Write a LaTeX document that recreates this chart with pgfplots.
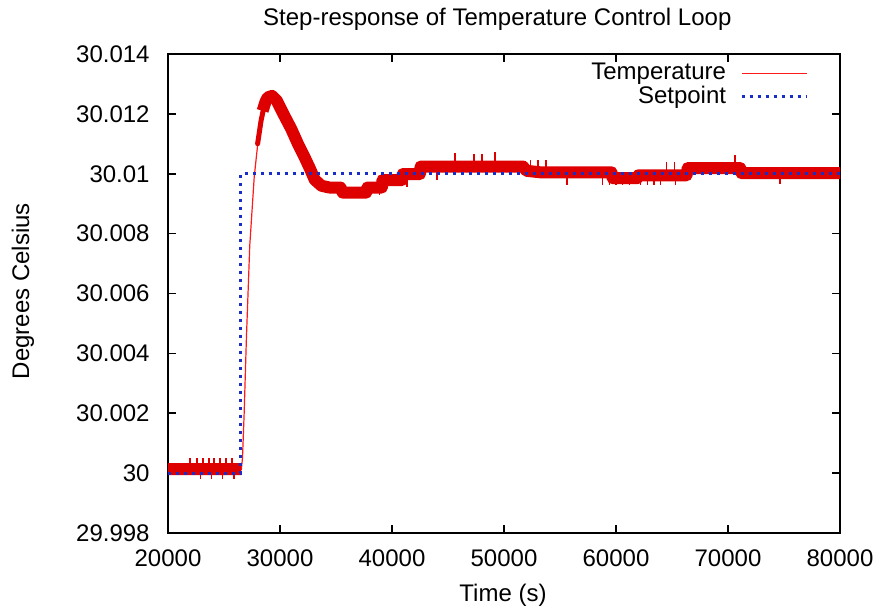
\documentclass[border=0pt]{standalone}
\usepackage{fontspec}
\setmainfont{Liberation Sans}
\usepackage{pgfplots}
\pgfplotsset{compat=1.18}
\definecolor{bandred}{RGB}{222,0,0}
\definecolor{thinred}{RGB}{255,25,25}
\definecolor{setblue}{RGB}{25,45,200}
\begin{document}
\fontsize{12}{14.4}\selectfont
\begin{tikzpicture}
\useasboundingbox (-84pt,-39.5pt) rectangle (356.5pt,266.5pt);
\begin{axis}[
  at={(0,0)}, anchor=south west,
  scale only axis, width=336pt, height=239.5pt,
  xmin=20000, xmax=80000, ymin=-2, ymax=14,
  xtick={20000,30000,...,80000},
  ytick={-2,0,...,14},
  yticklabels={29.998,30,30.002,30.004,30.006,30.008,30.01,30.012,30.014},
  /pgf/number format/1000 sep={},
  /pgf/number format/assume math mode=true,
  scaled x ticks=false,
  tick align=inside,
  major tick length=4pt,
  minor tick num=0,
  axis line style={line width=0.8pt},
  every tick/.style={black, line width=0.8pt},
  xticklabel style={anchor=base, yshift=-16.5pt},
  yticklabel style={anchor=east, xshift=-5pt},
  title={Step-response of Temperature Control Loop},
  title style={at={(axis description cs:0.49,1)}, anchor=base, yshift=8.5pt},
  xlabel={Time (s)},
  xlabel style={at={(axis description cs:0.4985,0)}, anchor=base, yshift=-34pt},
  ylabel={Degrees Celsius},
  ylabel style={at={(axis description cs:-0.2158,0.505)}, anchor=center},
  legend plot pos=right,
  legend cell align=right,
  legend style={at={(axis description cs:0.962,0.998)}, anchor=north east, draw=none, fill=none, row sep=-2.5pt, column sep=5pt},
  legend image code/.code={\draw[#1] (0pt,0pt) -- (32.5pt,0pt);},
  unbounded coords=jump,
]
% Temperature (centre line), in mK above 30 degC
\addplot[thinred, line width=0.6pt] coordinates {
 (20000,0.13) (26550,0.13) (26650,0.5) (26800,2.0) (27000,4.5) (27300,7.6)
 (27700,9.9) (28100,11.3) (28500,12.2) (28900,12.55) (29300,12.6) (29700,12.45)
 (30300,12.0) (31000,11.5) (31600,11.0) (32200,10.55) (32700,10.15) (33100,9.8)
 (33700,9.6) (34400,9.54) (35400,9.54) (35600,9.37) (37700,9.37) (37800,9.54)
 (39100,9.54) (39150,9.79) (40900,9.79) (40950,9.99) (42500,9.99) (42550,10.24)
 (51700,10.24) (52000,10.1) (53200,10.05) (59600,10.05) (59700,9.85) (61900,9.85)
 (62000,9.95) (66300,9.95) (66400,10.19) (71100,10.19) (71200,10.02) (80000,10.02)
};
\addlegendentry{Temperature}
% start of the noisy band near the top of the rise
\addplot[bandred, line width=2.5pt, line cap=round, forget plot] coordinates {
 (28000,11.0) (28300,11.75) (28600,12.3)
};
% noise band of the temperature signal
\addplot[bandred, line width=6pt, line join=round, forget plot] coordinates {
 (20000,0.13) (26550,0.13)
 (26550,nan)
 (28450,12.1) (28700,12.4) (28900,12.55) (29300,12.6) (29700,12.45)
 (30300,12.0) (31000,11.5) (31600,11.0) (32200,10.55) (32700,10.15) (33100,9.8)
 (33700,9.6) (34400,9.54) (35400,9.54) (35600,9.37) (37700,9.37) (37800,9.54)
 (39100,9.54) (39150,9.79) (40900,9.79) (40950,9.99) (42500,9.99) (42550,10.24)
 (51700,10.24) (52000,10.1) (53200,10.05) (59600,10.05) (59700,9.85) (61900,9.85)
 (62000,9.95) (66300,9.95) (66400,10.19) (71100,10.19) (71200,10.02) (80000,10.02)
};
% noise spikes
\addplot[bandred, line width=0.6pt, forget plot] coordinates {
 (21964,0.13) (21964,0.5) (21964,nan)
 (22589,0.13) (22589,0.5) (22589,nan)
 (23125,0.13) (23125,0.5) (23125,nan)
 (23661,0.13) (23661,0.5) (23661,nan)
 (24107,0.13) (24107,0.5) (24107,nan)
 (24643,0.13) (24643,0.5) (24643,nan)
 (25179,0.13) (25179,0.5) (25179,nan)
 (25714,0.13) (25714,0.5) (25714,nan)
 (22900,0.13) (22900,-0.2) (22900,nan)
 (23900,0.13) (23900,-0.2) (23900,nan)
 (24900,0.13) (24900,-0.2) (24900,nan)
 (25900,0.13) (25900,-0.2) (25900,nan)
 (38900,9.54) (38900,9.3) (38900,nan)
 (41340,9.99) (41340,9.55) (41340,nan)
 (44020,10.24) (44020,9.79) (44020,nan)
 (45630,10.24) (45630,10.69) (45630,nan)
 (47320,10.24) (47320,10.65) (47320,nan)
 (48040,10.24) (48040,10.65) (48040,nan)
 (49200,10.24) (49200,10.72) (49200,nan)
 (52330,10.05) (52330,10.45) (52330,nan)
 (53040,10.05) (53040,10.45) (53040,nan)
 (53750,10.05) (53750,10.45) (53750,nan)
 (55630,10.05) (55630,9.62) (55630,nan)
 (58800,10.05) (58800,9.62) (58800,nan)
 (59400,10.05) (59400,9.62) (59400,nan)
 (60000,9.85) (60000,9.62) (60000,nan)
 (60600,9.85) (60600,9.62) (60600,nan)
 (61200,9.85) (61200,9.62) (61200,nan)
 (62200,9.95) (62200,9.62) (62200,nan)
 (62800,9.95) (62800,9.62) (62800,nan)
 (63400,9.95) (63400,9.62) (63400,nan)
 (64000,9.95) (64000,9.62) (64000,nan)
 (64500,9.95) (64500,10.4) (64500,nan)
 (65200,9.95) (65200,10.4) (65200,nan)
 (65300,9.95) (65300,9.62) (65300,nan)
 (70630,10.19) (70630,10.62) (70630,nan)
 (74640,10.02) (74640,9.66) (74640,nan)
};
% Setpoint
\addplot[setblue, line width=1.5pt, dash pattern=on 1.5pt off 2.5pt] coordinates {
 (20000,0) (26500,0) (26500,10) (80000,10)
};
\addlegendentry{Setpoint}
\end{axis}
\end{tikzpicture}
\end{document}
